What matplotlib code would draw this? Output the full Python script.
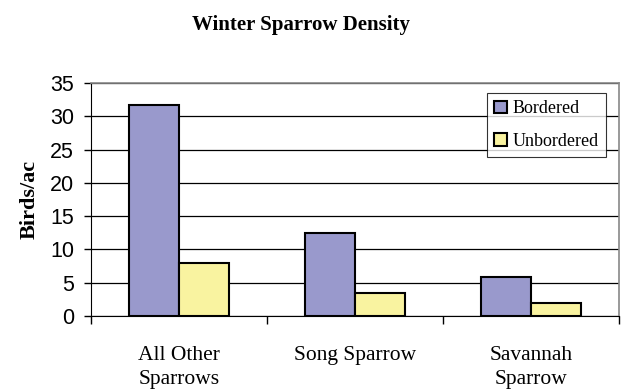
import numpy as np
import matplotlib.pyplot as plt

categories = ["All Other\nSparrows", "Song Sparrow", "Savannah\nSparrow"]
bordered = [31.7, 12.5, 5.9]
unbordered = [8.0, 3.4, 2.0]

serif = ["Liberation Serif", "DejaVu Serif"]
sans = ["Liberation Sans", "DejaVu Sans"]

fig = plt.figure(figsize=(6.27, 3.92), dpi=100)
ax = fig.add_axes([0.145, 0.194, 0.842, 0.594])

x = np.arange(len(categories))
w = 0.285
ax.bar(x - w / 2, bordered, w, color="#9999cc", edgecolor="black", linewidth=1.5,
       label="Bordered", zorder=3)
ax.bar(x + w / 2, unbordered, w, color="#f9f3a0", edgecolor="black", linewidth=1.5,
       label="Unbordered", zorder=3)

ax.set_xlim(-0.5, 2.5)
ax.set_ylim(0, 35)
ax.set_yticks(range(0, 36, 5))
ax.yaxis.grid(True, color="black", linewidth=0.9, zorder=0)
for lbl in ax.get_yticklabels():
    lbl.set_family(sans)
    lbl.set_fontsize(15.5)

# category labels between boundary ticks
ax.set_xticks([-0.5, 0.5, 1.5, 2.5])
ax.set_xticklabels([])
ax.tick_params(axis="x", length=6, width=1)
ax.tick_params(axis="y", length=5, width=1, pad=7)
for xi, name in zip(x, categories):
    ax.text(xi, -4.5, name, ha="center", va="top", fontsize=15.5, family=serif,
            linespacing=1.4)

ax.spines["top"].set_color("#888888")
ax.spines["right"].set_color("#888888")
ax.spines["top"].set_linewidth(1.2)
ax.spines["right"].set_linewidth(1.2)

ax.set_ylabel("Birds/ac", fontsize=16, fontweight="bold", family=serif)
ax.yaxis.set_label_coords(-0.098, 0.5)
fig.text(0.48, 0.935, "Winter Sparrow Density", ha="center", va="center",
         fontsize=15, fontweight="bold", family=serif)

leg = ax.legend(loc="upper right", bbox_to_anchor=(0.975, 0.957), borderaxespad=0,
                prop={"family": serif, "size": 13},
                frameon=True, fancybox=False, edgecolor="black", handlelength=0.7,
                handleheight=0.7, handletextpad=0.3, borderpad=0.4, labelspacing=0.85)
leg.get_frame().set_linewidth(0.8)

fig.savefig("out.png", dpi=100)
